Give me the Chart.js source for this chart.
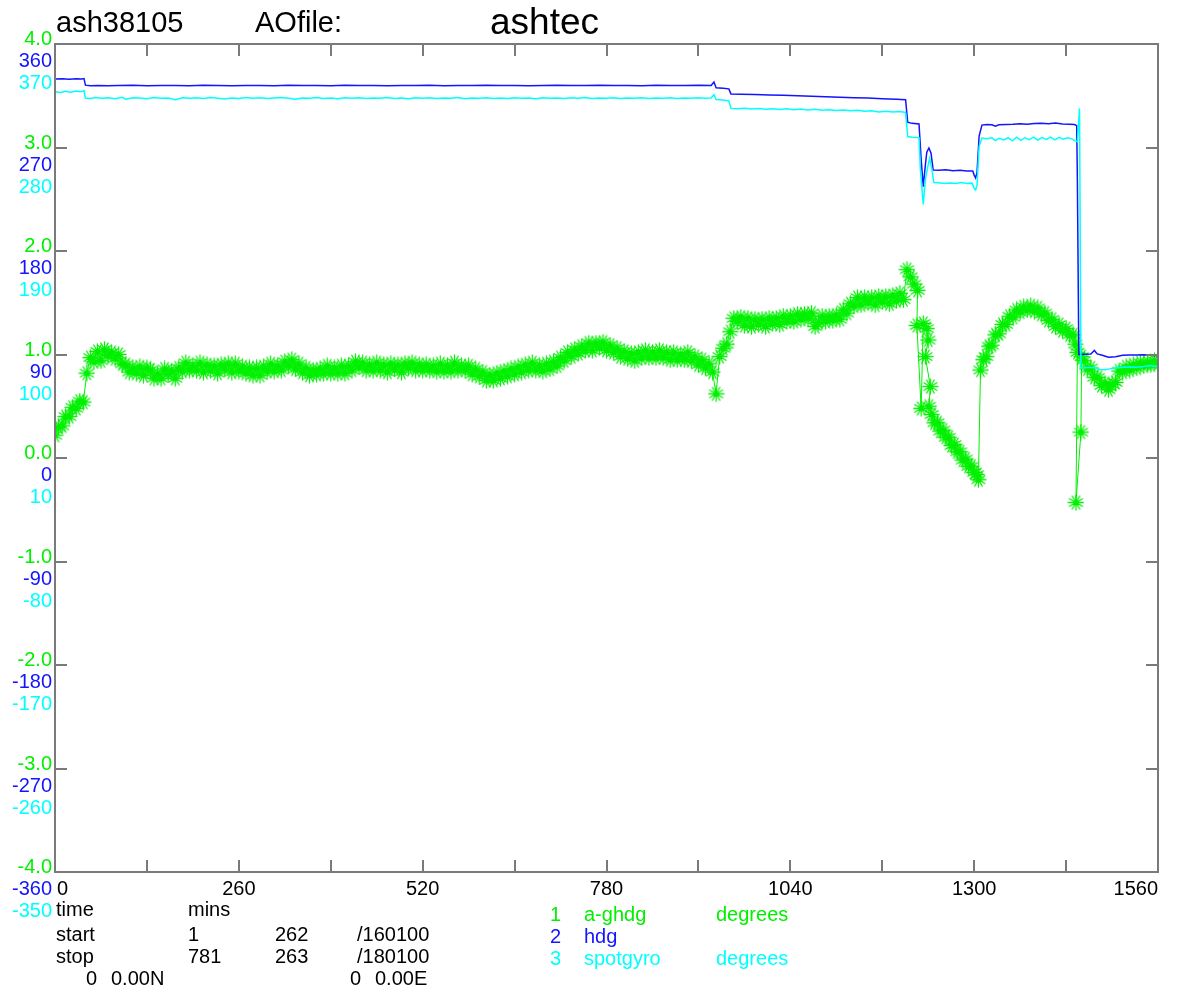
<!DOCTYPE html>
<html>
<head>
<meta charset="utf-8">
<script src="https://cdn.jsdelivr.net/npm/chart.js@4.4.1/dist/chart.umd.min.js"></script>
<style>
  html, body { margin: 0; padding: 0; background: #fff; }
  #wrap { position: relative; width: 1190px; height: 996px; overflow: hidden; }
  canvas { position: absolute; left: 0; top: 0; }
  .t { position: absolute; font-family: "Liberation Sans", Arial, Helvetica, sans-serif; line-height: 1; white-space: pre; color: #000; }
  .f20 { font-size: 20px; }
  .g { color: #00f000; }
  .b { color: #1414ff; }
  .c { color: #00ffff; }
</style>
</head>
<body>
<div id="wrap">
  <canvas id="chart" width="1190" height="996"></canvas>
  <div class="t" style="left:56px;top:8px;font-size:29px;">ash38105</div>
  <div class="t" style="left:255px;top:8px;font-size:29px;">AOfile:</div>
  <div class="t" style="left:490px;top:3px;font-size:37px;">ashtec</div>

  <div class="t f20" style="left:56px;top:899px;">time</div>
  <div class="t f20" style="left:188px;top:899px;">mins</div>
  <div class="t f20" style="left:56px;top:924px;">start</div>
  <div class="t f20" style="left:188px;top:924px;">1</div>
  <div class="t f20" style="left:275px;top:924px;">262</div>
  <div class="t f20" style="left:357px;top:924px;">/160100</div>
  <div class="t f20" style="left:56px;top:946px;">stop</div>
  <div class="t f20" style="left:188px;top:946px;">781</div>
  <div class="t f20" style="left:275px;top:946px;">263</div>
  <div class="t f20" style="left:357px;top:946px;">/180100</div>
  <div class="t f20" style="left:86px;top:968px;">0</div>
  <div class="t f20" style="left:111px;top:968px;">0.00N</div>
  <div class="t f20" style="left:350px;top:968px;">0</div>
  <div class="t f20" style="left:375px;top:968px;">0.00E</div>

  <div class="t f20 g" style="left:550px;top:904px;">1</div>
  <div class="t f20 g" style="left:584px;top:904px;">a-ghdg</div>
  <div class="t f20 g" style="left:716px;top:904px;">degrees</div>
  <div class="t f20 b" style="left:550px;top:926px;">2</div>
  <div class="t f20 b" style="left:584px;top:926px;">hdg</div>
  <div class="t f20 c" style="left:550px;top:948px;">3</div>
  <div class="t f20 c" style="left:584px;top:948px;">spotgyro</div>
  <div class="t f20 c" style="left:716px;top:948px;">degrees</div>
</div>
<script>
// ---------------- DATA ----------------
// y-axis tick values (a-ghdg units) and the three label sets
const yTickValues = [4, 3, 2, 1, 0, -1, -2, -3, -4];
const yTickGreen  = ['4.0', '3.0', '2.0', '1.0', '0.0', '-1.0', '-2.0', '-3.0', '-4.0'];
const yTickBlue   = ['360', '270', '180', '90', '0', '-90', '-180', '-270', '-360'];
const yTickCyan   = ['370', '280', '190', '100', '10', '-80', '-170', '-260', '-350'];
// x-axis (time, mins)
const xMinorTicks = [0, 130, 260, 390, 520, 650, 780, 910, 1040, 1170, 1300, 1430, 1560];
const xTickLabels = ['0', '260', '520', '780', '1040', '1300', '1560'];
const xTickLabelValues = [0, 260, 520, 780, 1040, 1300, 1560];

// scale relations: hdg = 90 * y ; spotgyro = 90 * y + 10
const hdgPerUnit = 90;
const spotOffset = 10;

// a-ghdg sampled every 5 mins, t = 0 .. 1220
const greenStep = 5;
const greenRegular = [
  0.22,0.30,0.31,0.40,0.40,0.49,0.48,0.55,0.54,0.82,
  0.97,0.93,1.03,0.94,1.05,0.99,1.02,0.96,1.00,0.91,
  0.90,0.83,0.87,0.82,0.88,0.80,0.87,0.85,0.77,0.81,
  0.77,0.86,0.81,0.84,0.77,0.87,0.84,0.92,0.85,0.89,
  0.85,0.92,0.83,0.90,0.85,0.89,0.82,0.90,0.86,0.91,
  0.83,0.91,0.84,0.88,0.82,0.87,0.80,0.87,0.80,0.88,
  0.84,0.91,0.84,0.89,0.85,0.93,0.89,0.95,0.86,0.91,
  0.83,0.87,0.80,0.85,0.81,0.86,0.82,0.89,0.82,0.87,
  0.82,0.89,0.82,0.89,0.85,0.93,0.88,0.92,0.85,0.90,
  0.85,0.92,0.85,0.90,0.83,0.91,0.86,0.90,0.83,0.91,
  0.87,0.92,0.85,0.90,0.85,0.90,0.85,0.89,0.84,0.91,
  0.84,0.89,0.84,0.92,0.85,0.89,0.85,0.89,0.81,0.86,
  0.79,0.83,0.75,0.80,0.75,0.82,0.77,0.84,0.79,0.86,
  0.81,0.88,0.83,0.90,0.85,0.92,0.85,0.89,0.84,0.91,
  0.86,0.93,0.89,0.97,0.94,1.02,0.98,1.05,1.01,1.08,
  1.04,1.11,1.04,1.11,1.07,1.12,1.04,1.09,1.02,1.06,
  0.98,1.03,0.96,1.01,0.94,1.02,0.97,1.04,0.97,1.02,
  0.97,1.04,0.97,1.02,0.95,1.02,0.95,1.00,0.95,1.02,
  0.94,0.98,0.90,0.95,0.87,0.91,0.83,0.62,0.98,1.06,
  1.10,1.22,1.35,1.32,1.36,1.28,1.35,1.27,1.34,1.29,
  1.34,1.27,1.35,1.30,1.35,1.29,1.37,1.32,1.37,1.32,
  1.39,1.34,1.39,1.35,1.40,1.27,1.31,1.37,1.32,1.37,
  1.33,1.38,1.34,1.43,1.40,1.49,1.47,1.55,1.48,1.55,
  1.50,1.55,1.48,1.56,1.51,1.56,1.49,1.57,1.52,1.59,
  1.53,1.82,1.75,1.68,1.62
];
// a-ghdg irregular tail (times in mins)
const greenTailTime = [
  1219,1225,1228,1233,1235,1231,1238,1236,1240,1244,1248,1252,1256,1260,1264,1268,1272,1276,1280,1284,
  1288,1292,1296,1300,1304,1306,1309,1313,1317,1321,1325,1330,1335,1340,1345,1350,1355,1360,1365,1370,
  1375,1380,1385,1390,1395,1400,1405,1410,1415,1420,1425,1430,1435,1440,1443,1446,1444,1451,1452,1455,
  1460,1465,1470,1475,1480,1485,1490,1495,1500,1505,1510,1515,1520,1525,1530,1535,1540,1545,1550,1555,1560
];
const greenTailVal = [
  1.28,0.48,1.30,1.25,1.14,0.98,0.69,0.50,0.42,0.34,0.34,0.26,0.27,0.20,0.20,0.12,0.13,0.06,0.06,-0.02,
  -0.01,-0.08,-0.08,-0.14,-0.16,-0.21,0.85,0.95,0.98,1.08,1.09,1.19,1.20,1.29,1.29,1.37,1.36,1.43,1.41,1.46,
  1.43,1.47,1.42,1.45,1.39,1.40,1.33,1.34,1.27,1.29,1.23,1.25,1.19,1.19,1.10,1.02,-0.43,0.25,0.98,0.94,
  0.86,0.87,0.78,0.78,0.70,0.72,0.66,0.71,0.73,0.84,0.83,0.88,0.85,0.90,0.87,0.92,0.89,0.92,0.90,0.94,0.91
];

// hdg (degrees)
const hdgTime = [
  0,10,20,30,38,41,43,50,60,75,90,110,130,150,170,190,210,230,250,270,290,310,330,350,370,390,410,430,450,470,
  490,510,530,550,570,590,610,630,650,670,690,710,730,750,770,790,810,830,850,870,890,910,928,932,935,945,953,956,970,990,
  1010,1030,1050,1070,1090,1110,1130,1150,1170,1190,1203,1206,1212,1222,1225,1228,1231,1233,1236,1239,1242,1250,1260,1270,1280,1290,1298,1300,1302,1304,
  1307,1311,1318,1325,1330,1335,1345,1355,1365,1375,1385,1395,1405,1415,1425,1435,1442,1445,1446,1448,1455,1465,1470,1474,1480,1490,1500,1510,1520,1530,
  1540,1550,1555,1560
];
const hdgVal = [
  329.5,329.8,329.3,329.7,329.6,329.9,324.2,323.8,324.0,323.6,323.9,324.1,323.7,323.9,324.0,323.8,324.1,323.9,323.7,324.0,323.9,323.8,324.1,323.9,324.0,323.8,324.2,323.9,324.0,323.8,
  324.0,323.9,324.1,323.8,324.0,323.9,324.1,323.9,324.0,323.8,324.0,324.1,323.9,324.0,324.2,323.9,324.0,323.8,324.1,324.0,323.9,324.1,324.0,327.0,322.0,321.5,321.0,316.6,316.4,316.0,
  315.6,315.4,315.0,314.6,314.2,313.8,313.3,313.0,312.4,312.0,311.5,292.0,291.0,290.5,260.0,236.0,255.0,266.0,269.6,265.0,250.5,250.2,250.6,249.8,250.3,249.6,249.5,246.0,243.5,248.0,
  280.0,289.5,290.0,289.8,288.6,289.7,290.0,290.2,290.6,290.3,290.8,291.0,290.7,291.2,290.5,290.2,290.0,289.0,240.0,90.0,90.2,90.5,93.5,90.5,89.5,87.6,88.0,89.4,89.6,89.5,
  89.8,89.4,89.0,89.2
];

// spotgyro (degrees)
const spotTime = [
  0,8,15,22,30,36,41,43,50,58,66,75,85,95,100,110,120,130,140,150,160,170,180,190,200,210,220,230,240,250,
  260,270,280,290,300,310,320,330,340,350,360,370,380,390,400,410,420,430,440,450,460,470,480,490,500,510,520,530,540,550,
  560,570,580,590,600,610,620,630,640,650,660,670,680,690,700,710,720,730,740,750,760,770,780,790,800,810,820,830,840,850,
  860,870,880,890,900,910,920,928,932,935,945,953,956,965,975,985,995,1005,1015,1025,1035,1045,1055,1065,1075,1085,1095,1105,1115,1125,
  1135,1145,1155,1165,1175,1185,1195,1203,1206,1212,1218,1222,1224,1228,1231,1234,1237,1240,1243,1250,1258,1266,1274,1282,1290,1297,1300,1302,1304,1307,
  1311,1318,1325,1330,1335,1342,1348,1354,1360,1366,1372,1378,1384,1390,1396,1402,1408,1414,1420,1426,1432,1438,1442,1446,1449,1451,1455,1462,1470,1478,
  1485,1492,1500,1510,1520,1530,1540,1550,1555,1560
];
const spotVal = [
  328.5,327.8,328.9,328.0,329.2,328.4,329.5,323.0,322.6,323.4,322.8,323.3,322.4,323.6,322.0,323.2,323.0,322.5,323.4,322.9,323.1,321.6,323.2,322.8,323.3,322.7,323.5,322.9,322.2,323.1,
  322.7,323.4,322.8,323.2,322.6,323.0,323.5,322.9,321.9,323.1,322.8,323.4,322.7,323.0,322.5,323.3,322.9,323.2,322.6,323.1,322.8,323.4,322.7,323.0,322.4,323.2,322.9,323.3,322.6,323.0,
  322.8,323.4,322.5,323.1,322.9,323.3,322.7,323.0,322.6,323.2,322.8,323.1,322.4,323.3,322.9,323.0,322.6,323.2,322.8,323.4,322.7,323.1,322.9,323.3,322.6,323.0,322.8,323.2,322.7,323.1,
  322.9,323.3,322.6,323.0,322.8,323.2,322.9,323.0,326.0,321.8,321.2,320.6,314.0,313.6,314.2,313.4,314.0,313.3,313.8,313.1,313.6,312.9,313.4,312.7,313.2,312.5,312.9,312.2,312.6,311.9,
  312.3,311.5,311.9,310.8,311.6,310.9,311.2,310.5,289.5,289.0,288.8,288.5,260.0,230.5,252.0,262.0,270.5,262.0,249.5,249.4,248.6,249.2,248.8,249.5,248.7,249.0,244.5,243.0,247.0,281.0,
  288.2,287.6,288.4,286.0,288.0,286.5,288.6,285.8,288.9,286.2,288.5,286.9,289.0,286.4,288.7,287.0,289.1,286.6,288.8,287.2,288.4,287.5,286.0,285.0,314.0,88.5,88.2,88.8,88.6,87.0,
  86.8,87.5,88.4,88.9,89.2,89.0,89.6,90.4,89.8,90.0
];

// ---------------- BUILD ----------------
const greenData = greenRegular.map((v, i) => ({ x: i * greenStep, y: v }))
  .concat(greenTailTime.map((t, i) => ({ x: t, y: greenTailVal[i] })));
const hdgData = hdgTime.map((t, i) => ({ x: t, y: hdgVal[i] / hdgPerUnit }));
const spotData = spotTime.map((t, i) => ({ x: t, y: (spotVal[i] - spotOffset) / hdgPerUnit }));

const FONT = '"Liberation Sans", Arial, Helvetica, sans-serif';
const GREEN = '#00f000', BLUE = '#1414ff', CYAN = '#00ffff', AXIS = '#7a7a7a';

// asterisk marker with 12 rays (style only)
const starImg = (() => {
  const c = document.createElement('canvas');
  c.width = 17; c.height = 17;
  const g = c.getContext('2d');
  g.strokeStyle = GREEN; g.lineWidth = 1.3; g.lineCap = 'round';
  g.beginPath();
  for (let k = 0; k < 6; k++) {
    const a = k * Math.PI / 6;
    g.moveTo(8.5 + 7.5 * Math.cos(a), 8.5 + 7.5 * Math.sin(a));
    g.lineTo(8.5 - 7.5 * Math.cos(a), 8.5 - 7.5 * Math.sin(a));
  }
  g.stroke();
  return c;
})();

const framePlugin = {
  id: 'frameAndLabels',
  afterDraw(chart) {
    const { ctx, chartArea: { left, right, top, bottom }, scales: { x, y } } = chart;
    ctx.save();
    ctx.strokeStyle = AXIS;
    ctx.lineWidth = 2;
    ctx.strokeRect(left, top, right - left, bottom - top);
    ctx.beginPath();
    xMinorTicks.forEach(v => {
      const px = Math.round(x.getPixelForValue(v));
      ctx.moveTo(px, bottom); ctx.lineTo(px, bottom - 12);
      ctx.moveTo(px, top); ctx.lineTo(px, top + 12);
    });
    yTickValues.forEach(v => {
      const py = Math.round(y.getPixelForValue(v));
      ctx.moveTo(left, py); ctx.lineTo(left + 12, py);
      ctx.moveTo(right, py); ctx.lineTo(right - 12, py);
    });
    ctx.stroke();

    ctx.font = '20px ' + FONT;
    ctx.textBaseline = 'alphabetic';
    ctx.textAlign = 'right';
    yTickValues.forEach((v, i) => {
      const py = y.getPixelForValue(v);
      ctx.fillStyle = GREEN; ctx.fillText(yTickGreen[i], left - 3, py + 1);
      ctx.fillStyle = BLUE;  ctx.fillText(yTickBlue[i],  left - 3, py + 23);
      ctx.fillStyle = CYAN;  ctx.fillText(yTickCyan[i],  left - 3, py + 45);
    });
    ctx.fillStyle = '#000';
    xTickLabelValues.forEach((v, i) => {
      const px = x.getPixelForValue(v);
      if (i === 0) { ctx.textAlign = 'left'; ctx.fillText(xTickLabels[i], px + 2, bottom + 23); }
      else if (i === xTickLabelValues.length - 1) { ctx.textAlign = 'right'; ctx.fillText(xTickLabels[i], px, bottom + 23); }
      else { ctx.textAlign = 'center'; ctx.fillText(xTickLabels[i], px, bottom + 23); }
    });
    ctx.restore();
  }
};

new Chart(document.getElementById('chart'), {
  type: 'scatter',
  data: {
    datasets: [
      { label: 'a-ghdg', data: greenData, showLine: true, borderColor: GREEN, backgroundColor: GREEN,
        borderWidth: 1, pointStyle: starImg, pointRadius: 8, order: 3 },
      { label: 'hdg', data: hdgData, showLine: true, borderColor: BLUE, borderWidth: 1.5, pointRadius: 0, order: 2 },
      { label: 'spotgyro', data: spotData, showLine: true, borderColor: CYAN, borderWidth: 1.5, pointRadius: 0, order: 1 }
    ]
  },
  options: {
    responsive: false,
    animation: false,
    layout: { padding: { left: 55, right: 32, top: 44, bottom: 124 } },
    elements: { line: { tension: 0 } },
    scales: {
      x: { type: 'linear', min: 0, max: 1560, display: false },
      y: { type: 'linear', min: -4, max: 4, display: false }
    },
    plugins: { legend: { display: false }, tooltip: { enabled: false } }
  },
  plugins: [framePlugin]
});
</script>
</body>
</html>
